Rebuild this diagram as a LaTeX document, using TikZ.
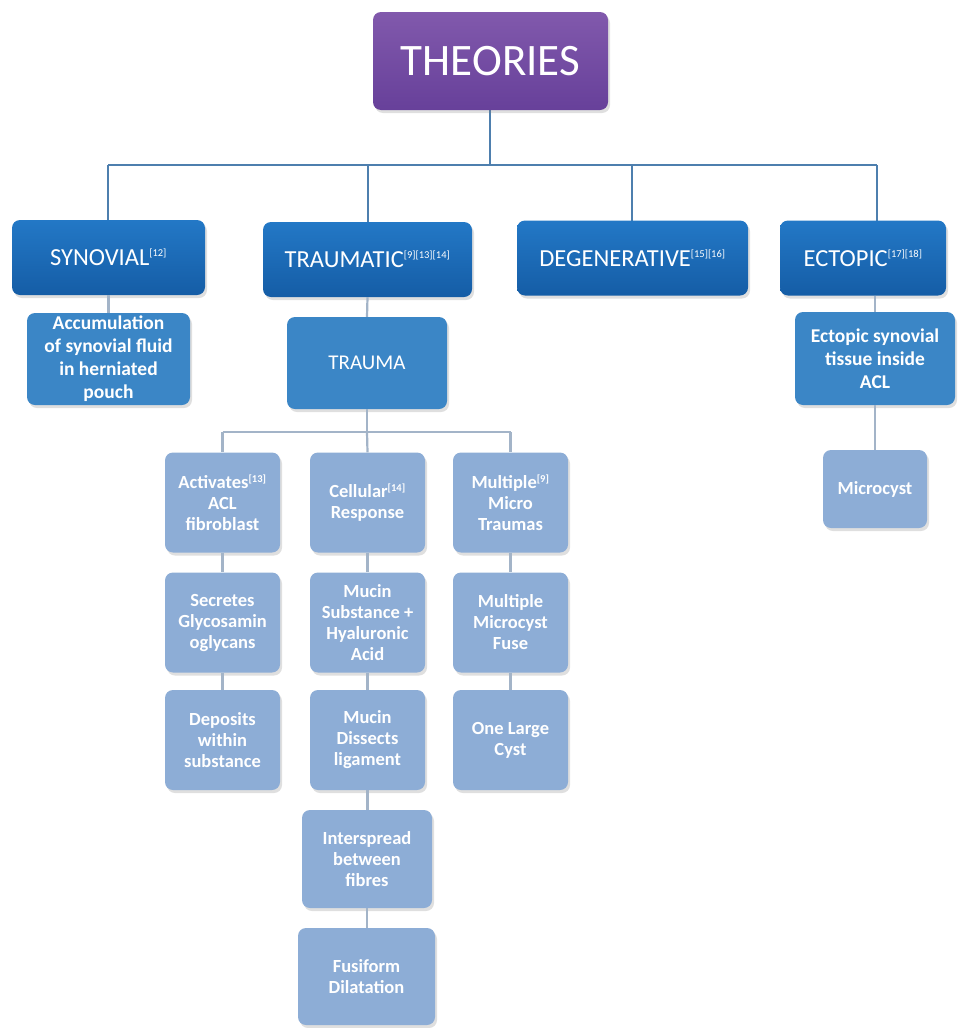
\documentclass[tikz,border=0pt]{standalone}
\usepackage{fontspec}
\setmainfont{Carlito}
\usetikzlibrary{shadows,calc}
\definecolor{purpT}{HTML}{8159AC}
\definecolor{purpB}{HTML}{67409A}
\definecolor{blueT}{HTML}{2378C6}
\definecolor{blueB}{HTML}{155DA6}
\definecolor{midblue}{HTML}{3B86C6}
\definecolor{lightblue}{HTML}{8DADD6}
\definecolor{busline}{HTML}{4E7FAE}
\definecolor{thinline}{HTML}{A3B4C8}
\tikzset{
  base/.style={rounded corners=8pt, text=white, align=center, inner sep=2pt,
    drop shadow={shadow xshift=2pt, shadow yshift=-3pt, opacity=0.25}},
  topbox/.style={base, top color=purpT, bottom color=purpB, minimum width=235pt, minimum height=98pt, font=\fontsize{45}{50}\selectfont},
  catbox/.style={base, top color=blueT, bottom color=blueB, minimum height=75pt, font=\fontsize{24.5}{28}\selectfont},
  midbox/.style={base, fill=midblue, font=\fontsize{19.5}{23}\selectfont\bfseries},
  leafbox/.style={base, fill=lightblue, minimum width=115pt, minimum height=100pt, font=\fontsize{18.5}{21}\selectfont\bfseries},
  busln/.style={draw=busline, line width=2.6pt},
  thin/.style={draw=thinline, line width=2.2pt}
}
\newcommand{\rf}[1]{\textsuperscript{\fontsize{10.5}{10.5}\selectfont #1}}
\begin{document}
\begin{tikzpicture}[x=1pt,y=-1pt]
\useasboundingbox (0,0) rectangle (958,1028);
\fill[white] (0,0) rectangle (958,1028);

% bus lines
\coordinate (busL) at (108,165);
\coordinate (busR) at (877,165);
\coordinate (busC) at (490,165);
\coordinate (bT) at (368,165);
\coordinate (bD) at (632,165);

\draw[busln] (490,110) -- (busC);
\draw[busln] (busL) -- (busR);
\draw[busln] (busL) -- (108,222);
\draw[busln] (bT) -- (368,222);
\draw[busln] (bD) -- (632,222);
\draw[busln] (busR) -- (877,222);

\node[topbox] (theories) at (490.5,61) {THEORIES};

\node[catbox, minimum width=193pt] (syn) at (108.5,257.5) {SYNOVIAL\rf{[12]}};
\node[catbox, minimum width=209pt] (trau) at (367.5,259.5) {TRAUMATIC\rf{[9][13][14]}};
\node[catbox, minimum width=231pt] (deg) at (632.5,258) {DEGENERATIVE\rf{[15][16]}};
\node[catbox, minimum width=166pt] (ect) at (863,258) {ECTOPIC\rf{[17][18]}};

% level 2
\node[midbox, minimum width=163pt, minimum height=92pt] (acc) at (108.5,359) {Accumulation\\of synovial fluid\\in herniated\\pouch};
\node[midbox, minimum width=160pt, minimum height=92pt, font=\fontsize{21}{24}\selectfont] (trauma) at (367,363) {TRAUMA};
\node[midbox, minimum width=160pt, minimum height=93pt] (ecttis) at (875,358.5) {Ectopic synovial\\tissue inside\\ACL};
\node[leafbox, minimum width=104pt, minimum height=78pt] (micro) at (875,489) {Microcyst};

\draw[thin] (syn.south) -- (acc.north);
\draw[thin] (trau.south) -- (trauma.north);
\draw[thin] (ecttis.south -| micro.north) -- (micro.north);
\draw[thin] (ect.south -| ecttis.north) -- (ecttis.north);

% level 3
\node[leafbox] (a1) at (222.5,502.5) {Activates\rf{[13]}\\ACL\\fibroblast};
\node[leafbox] (b1) at (367.5,502.5) {Cellular\rf{[14]}\\Response};
\node[leafbox] (c1) at (510.5,502.5) {Multiple\rf{[9]}\\Micro\\Traumas};

\node[leafbox] (a2) at (222.5,622.5) {Secretes\\Glycosamin\\oglycans};
\node[leafbox] (b2) at (367.5,622.5) {Mucin\\Substance +\\Hyaluronic\\Acid};
\node[leafbox] (c2) at (510.5,622.5) {Multiple\\Microcyst\\Fuse};

\node[leafbox] (a3) at (222.5,740) {Deposits\\within\\substance};
\node[leafbox] (b3) at (367.5,740) {Mucin\\Dissects\\ligament};
\node[leafbox] (c3) at (510.5,740) {One Large\\Cyst};

\node[leafbox, minimum width=130pt, minimum height=98pt] (b4) at (367,859) {Interspread\\between\\fibres};
\node[leafbox, minimum width=137pt, minimum height=97pt] (b5) at (366.5,976.5) {Fusiform\\Dilatation};

% trauma fork
\coordinate (fork) at (367,432);
\draw[thin] (trauma.south) -- (fork);
\draw[thin] (fork -| a1.north) -- (fork -| c1.north);
\draw[thin] (fork -| a1.north) -- (a1.north);
\draw[thin] (fork) -- (b1.north);
\draw[thin] (fork -| c1.north) -- (c1.north);

\draw[thin] (a1.south) -- (a2.north);
\draw[thin] (a2.south) -- (a3.north);
\draw[thin] (b1.south) -- (b2.north);
\draw[thin] (b2.south) -- (b3.north);
\draw[thin] (b3.south) -- (b3.south |- b4.north);
\draw[thin] (b4.south) -- (b4.south |- b5.north);
\draw[thin] (c1.south) -- (c2.north);
\draw[thin] (c2.south) -- (c3.north);
\end{tikzpicture}
\end{document}
